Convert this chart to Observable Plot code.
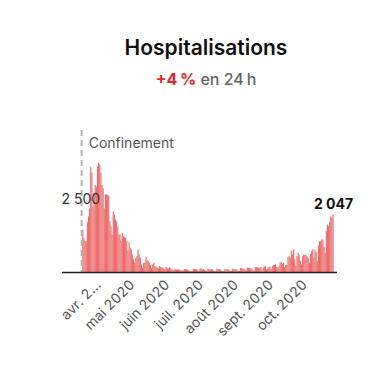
<!DOCTYPE html>
<html><head><meta charset="utf-8">
<script src="https://cdn.jsdelivr.net/npm/d3@7"></script>
<script src="https://cdn.jsdelivr.net/npm/@observablehq/plot@0.6"></script>
<style>
body{margin:0;background:#fff;font-family:Inter,"Liberation Sans",sans-serif;}
#wrap{width:391px;}
.title{padding-top:35px;padding-left:21px;text-align:center;font-size:21px;font-weight:600;line-height:26px;color:#111;}
.sub{margin-top:8px;padding-left:21px;text-align:center;font-size:16px;line-height:20px;color:#666;font-weight:500;}
.sub .up{color:#e3262f;font-weight:700;}
#chart svg{display:block;}
</style></head><body>
<div id="wrap">
<div class="title">Hospitalisations</div>
<div class="sub"><span class="up">+4&#8239;%</span> en 24&#8239;h</div>
<div id="chart"></div>
</div>
<script>
const startDate = "2020-03-18";
const values = [
1515,1210,1100,1100,1775,1990,2270,3760,3550,2340,2840,3110,3050,3760,3900,3830,3550,3110,2980,2270,
2770,2770,2760,2730,1810,1630,1340,2165,2050,1870,1810,1600,1340,1340,1100,1390,1280,1240,
1220,1100,745,1065,865,805,630,450,330,510,570,805,630,510,270,155,330,330,530,450,390,330,
250,155,270,330,215,180,155,130,215,180,155,155,130,95,180,130,130,180,130,95,60,95,85,85,
95,85,85,70,60,50,
110,100,95,90,60,40,35,
45,120,110,100,95,60,45,
140,130,90,100,80,50,40,
120,110,100,100,90,45,35,
30,125,110,100,90,50,35,
40,110,100,105,95,55,40,
35,115,110,100,100,60,40,
45,150,140,130,120,70,50,
160,150,140,130,110,60,50,
180,
178,155,160,155,178,60,155,
190,213,95,118,178,190,95,
213,250,250,272,178,155,200,
331,367,296,331,178,250,260,
533,568,509,769,627,805,450,
213,568,686,600,391,272,568,
627,604,627,560,509,331,651,
746,805,509,805,700,391,923,
1100,1100,1160,1160,900,686,1480,
1692,1633,1800,1988,1950,2047
];
const confinementDate = "2020-03-17";
const confinementLabel = "Confinement";
const xTicks = ["2020-04-01","2020-05-01","2020-06-01","2020-07-01","2020-08-01","2020-09-01","2020-10-01"];
const xTickLabels = ["avr. 2…","mai 2020","juin 2020","juil. 2020","août 2020","sept. 2020","oct. 2020"];
const yTicks = [2500];
const yTickLabels = ["2 500"];
const lastLabel = "2 047";

const start = new Date(startDate);
const rows = values.map((v, i) => ({date: d3.utcDay.offset(start, i), value: v}));
const last = rows[rows.length - 1];
const conf = new Date(confinementDate);
const tickDates = xTicks.map(d => new Date(d));
const tickMap = new Map(tickDates.map((d, i) => [+d, xTickLabels[i]]));

const chart = Plot.plot({
  width: 391, height: 254,
  marginLeft: 62, marginRight: 54, marginTop: 41, marginBottom: 71,
  x: {type: "utc", domain: [new Date("2020-02-29"), new Date("2020-10-30")]},
  y: {domain: [0, 5070], axis: null},
  style: {fontFamily: "Inter, 'Liberation Sans', sans-serif", fontSize: "14px", color: "#555", background: "transparent"},
  marks: [
    Plot.rectY(rows, {x1: "date", x2: d => d3.utcDay.offset(d.date, 1), y: "value", fill: "#ec6b6b", inset: 0}),
    Plot.ruleX([conf], {x: d => d, stroke: "#b3b3b3", strokeWidth: 2, strokeDasharray: "6,4"}),
    Plot.text([conf], {x: d => d, frameAnchor: "top", textAnchor: "start", lineAnchor: "middle", dx: 7, dy: 13, text: () => confinementLabel, fill: "#555", fontSize: 14}),
    Plot.ruleY([0], {stroke: "#222", strokeWidth: 1.5}),
    Plot.text(yTicks, {y: d => d, frameAnchor: "left", textAnchor: "start", dx: -1, dy: -3, text: (d, i) => yTickLabels[i], fill: "#333", fontSize: 14}),
    Plot.text([last], {x: d => d3.utcHour.offset(d.date, 12), y: "value", text: () => lastLabel, lineAnchor: "bottom", dy: -6, fontWeight: 700, fill: "#111", fontSize: 14}),
    Plot.axisX(tickDates, {tickSize: 0, tickPadding: 10, tickRotate: -45, tickFormat: d => tickMap.get(+d), fill: "#555", fontSize: 14})
  ]
});
document.getElementById("chart").appendChild(chart);
</script>
</body></html>
